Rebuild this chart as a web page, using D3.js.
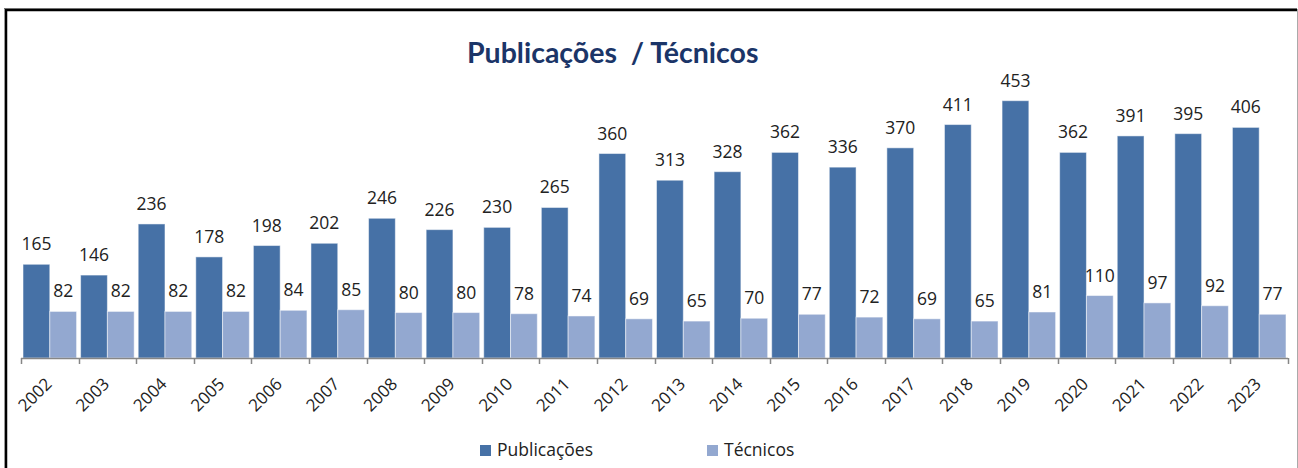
<!DOCTYPE html>
<html><head><meta charset="utf-8">
<script src="https://cdn.jsdelivr.net/npm/d3@7"></script>
<style>html,body{margin:0;padding:0;background:#fff;}svg{display:block;}</style>
</head><body>
<script>
const years = ["2002","2003","2004","2005","2006","2007","2008","2009","2010","2011","2012","2013","2014","2015","2016","2017","2018","2019","2020","2021","2022","2023"];
const publicacoes = [165,146,236,178,198,202,246,226,230,265,360,313,328,362,336,370,411,453,362,391,395,406];
const tecnicos = [82,82,82,82,84,85,80,80,78,74,69,65,70,77,72,69,65,81,110,97,92,77];
const seriesNames = ["Publicações","Técnicos"];
const colors = ["#4671A6","#93A8D0"];
const title = "Publicações  / Técnicos";

const W = 1298, H = 468;
const svg = d3.select("body").append("svg").attr("width", W).attr("height", H);

// frame
svg.append("rect").attr("x",0).attr("y",0).attr("width",W).attr("height",H).attr("fill","#fff");
svg.append("line").attr("x1",4).attr("x2",1297).attr("y1",8.5).attr("y2",8.5).attr("stroke","#999").attr("stroke-width",1);
svg.append("line").attr("x1",4).attr("x2",1297).attr("y1",10).attr("y2",10).attr("stroke","#000").attr("stroke-width",2.5);
svg.append("line").attr("x1",6).attr("x2",6).attr("y1",9).attr("y2",H).attr("stroke","#000").attr("stroke-width",2.5);
svg.append("line").attr("x1",4.5).attr("x2",4.5).attr("y1",9).attr("y2",H).attr("stroke","#999").attr("stroke-width",1);
svg.append("line").attr("x1",1297.5).attr("x2",1297.5).attr("y1",9).attr("y2",H).attr("stroke","#aaa").attr("stroke-width",1);

const x0 = d3.scaleBand().domain(years).range([21, 1288]).paddingInner(0.07).paddingOuter(0.035);
const x1 = d3.scaleBand().domain([0,1]).range([0, x0.bandwidth()]);
const y = d3.scaleLinear().domain([0, 500]).range([358, 74]);

const data = years.map((yr,i)=>({yr, vals:[publicacoes[i], tecnicos[i]]}));

const g = svg.append("g");
const groups = g.selectAll("g.yr").data(data).join("g").attr("transform", d=>`translate(${x0(d.yr)},0)`);
groups.selectAll("rect").data(d=>d.vals.map((v,k)=>({v,k}))).join("rect")
  .attr("x", d=>x1(d.k)).attr("width", x1.bandwidth())
  .attr("y", d=>y(d.v)).attr("height", d=>y(0)-y(d.v))
  .attr("fill", d=>colors[d.k]).attr("stroke","#fff").attr("stroke-opacity",0.5).attr("stroke-width",1);
groups.selectAll("text").data(d=>d.vals.map((v,k)=>({v,k}))).join("text")
  .attr("x", d=>x1(d.k)+x1.bandwidth()/2).attr("y", d=>y(d.v)-14)
  .attr("text-anchor","middle").attr("font-family","Open Sans").attr("font-size",17.5).attr("fill","#222")
  .text(d=>d.v);

// axis
const ax = svg.append("g").attr("transform","translate(0,358)");
const tickPos = years.map((yr,i)=> i===0 ? 21 : (x0(years[i-1]) + x0.bandwidth() + x0(yr))/2).concat([1288]);
ax.append("line").attr("x1",21).attr("x2",1288).attr("y1",0.5).attr("y2",0.5).attr("stroke","#868686").attr("stroke-width",1.5);
ax.selectAll("line.tk").data(tickPos).join("line").attr("class","tk")
  .attr("x1",d=>Math.round(d)+0.5).attr("x2",d=>Math.round(d)+0.5).attr("y1",0).attr("y2",6).attr("stroke","#868686").attr("stroke-width",1.5);
ax.selectAll("text").data(years).join("text")
  .attr("transform", d=>`translate(${x0(d)+x0.bandwidth()/2+3},${27}) rotate(-45)`)
  .attr("text-anchor","end").attr("font-family","Open Sans").attr("font-size",17).attr("fill","#222")
  .text(d=>d);

// title
svg.append("text").attr("x",467).attr("y",63).attr("font-family","Lato").attr("font-weight","bold")
  .attr("font-size",28.5).attr("fill","#1B3568").attr("xml:space","preserve").style("white-space","pre").text(title);

// legend
const legX = [480, 707];
const leg = svg.append("g");
seriesNames.forEach((n,k)=>{
  leg.append("rect").attr("x",legX[k]).attr("y",445).attr("width",11).attr("height",11).attr("fill",colors[k]);
  leg.append("text").attr("x",legX[k]+17).attr("y",456).attr("font-family","Open Sans").attr("font-size",17.5).attr("fill","#222").text(n);
});
</script>
</body></html>
